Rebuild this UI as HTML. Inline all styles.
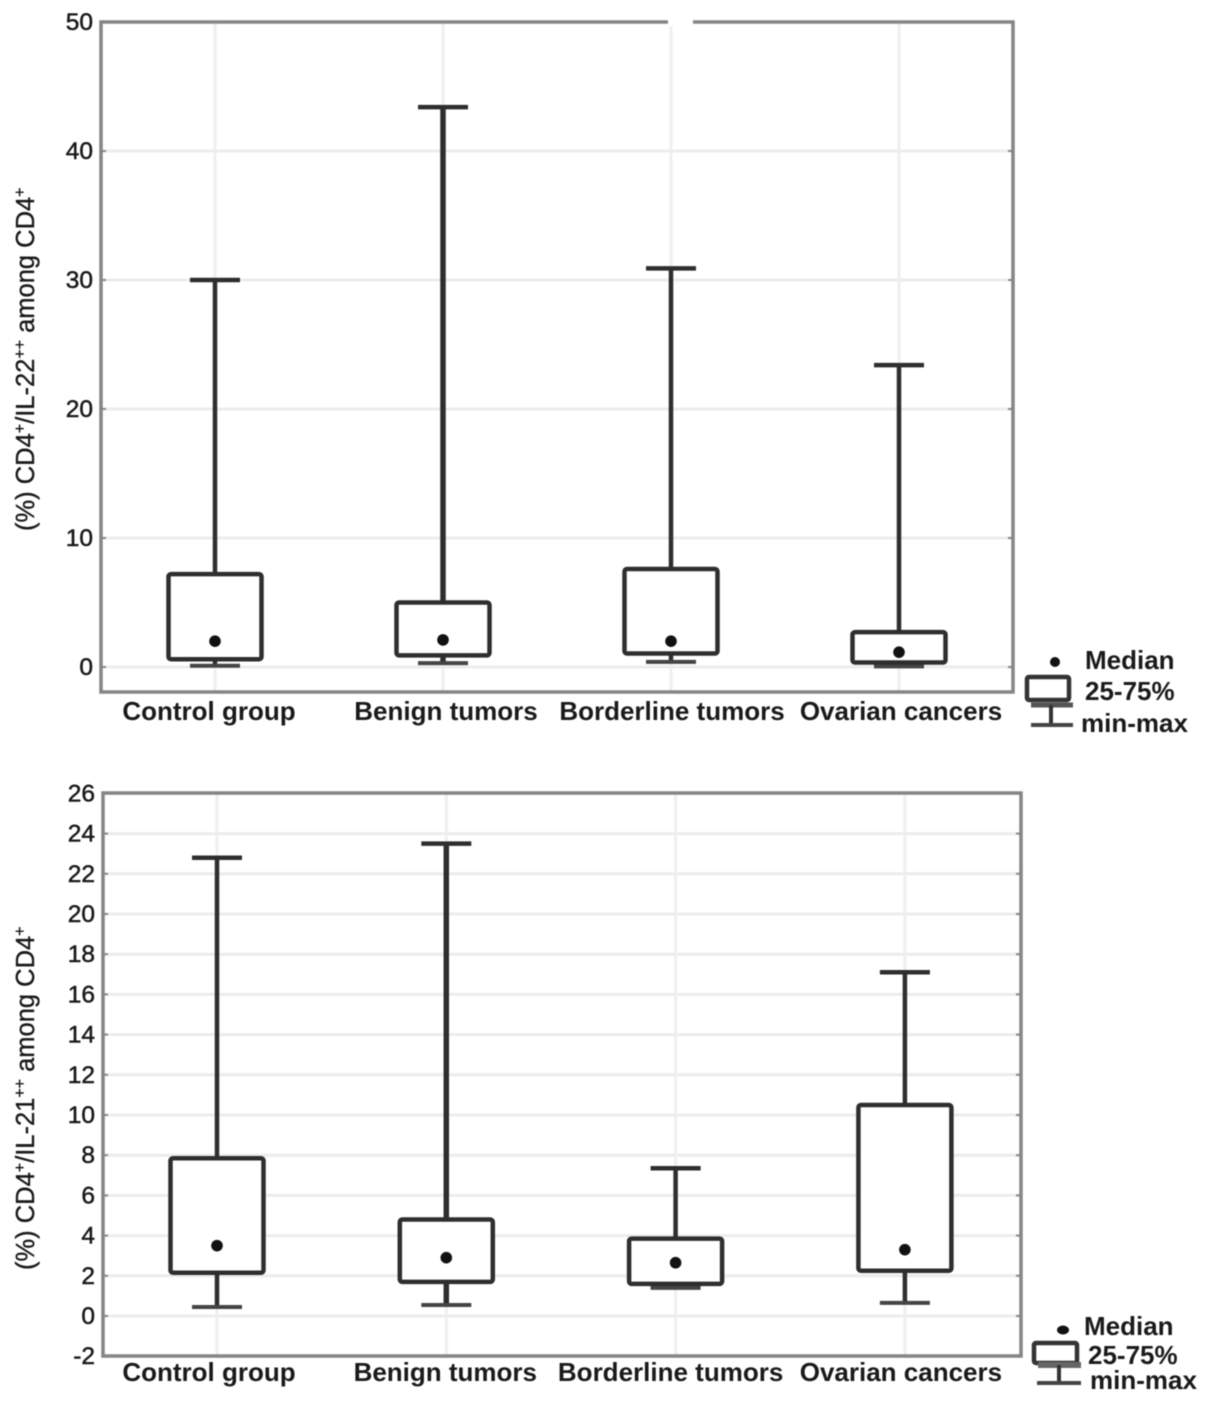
<!DOCTYPE html>
<html lang="en">
<head>
<meta charset="utf-8">
<title>CD4+ IL-22 and IL-21 box plots</title>
<style>
html,body{margin:0;padding:0;background:#fff;}
body{width:1205px;height:1411px;overflow:hidden;}
svg{display:block;filter:blur(0.6px);}
text{font-family:"Liberation Sans",sans-serif;fill:#1a1a1a;}
.tick{font-size:24.5px;stroke:#1a1a1a;stroke-width:0.5px;}
.cat{font-size:26px;font-weight:bold;}
.ytitle{font-size:25.5px;stroke:#1a1a1a;stroke-width:0.35px;}
.sup{font-size:16px;}
.leg{font-size:26px;font-weight:bold;}
</style>
</head>
<body>
<svg id="chart" xmlns="http://www.w3.org/2000/svg" width="1205" height="1411" viewBox="0 0 1205 1411">
  <rect x="0" y="0" width="1205" height="1411" fill="#fff"/>
  <g id="top-chart"></g>
  <g id="bottom-chart"></g>

  <rect x="668" y="14" width="25" height="12" fill="#fff"/>

  <text class="ytitle" transform="translate(34,531) rotate(-90)">(%) CD4<tspan class="sup" dy="-9">+</tspan><tspan dy="9">/IL-22</tspan><tspan class="sup" dy="-9">++</tspan><tspan dy="9"> among CD4</tspan><tspan class="sup" dy="-9">+</tspan></text>
  <text class="ytitle" transform="translate(34,1270) rotate(-90)">(%) CD4<tspan class="sup" dy="-9">+</tspan><tspan dy="9">/IL-21</tspan><tspan class="sup" dy="-9">++</tspan><tspan dy="9"> among CD4</tspan><tspan class="sup" dy="-9">+</tspan></text>

  <g>
    <circle cx="1055" cy="662" r="5" fill="#111"/>
    <rect x="1027" y="677" width="42" height="23" rx="2" fill="#fff" stroke="#333" stroke-width="4.5"/>
    <line x1="1031" y1="705" x2="1073" y2="705" stroke="#555" stroke-width="5"/>
    <line x1="1051" y1="705" x2="1051" y2="725" stroke="#333" stroke-width="4"/>
    <line x1="1031" y1="725" x2="1073" y2="725" stroke="#444" stroke-width="4"/>
    <text class="leg" x="1085" y="669">Median</text>
    <text class="leg" x="1085" y="700">25-75%</text>
    <text class="leg" x="1081" y="732">min-max</text>
  </g>
  <g>
    <ellipse cx="1063" cy="1330" rx="6" ry="4.5" fill="#111"/>
    <rect x="1034" y="1343" width="43" height="20" rx="2" fill="#fff" stroke="#333" stroke-width="4.5"/>
    <line x1="1038" y1="1365" x2="1081" y2="1365" stroke="#666" stroke-width="6"/>
    <line x1="1059" y1="1365" x2="1059" y2="1383" stroke="#333" stroke-width="4"/>
    <line x1="1037" y1="1383" x2="1081" y2="1383" stroke="#444" stroke-width="4"/>
    <text class="leg" x="1084" y="1335">Median</text>
    <text class="leg" x="1088" y="1364">25-75%</text>
    <text class="leg" x="1090" y="1389">min-max</text>
  </g>
</svg>
<script>
const categories = ["Control group", "Benign tumors", "Borderline tumors", "Ovarian cancers"];

const il22Ticks = [0, 10, 20, 30, 40, 50];
const il22Max = [30.0, 43.4, 30.9, 23.4];
const il22Q3 = [7.2, 5.0, 7.6, 2.7];
const il22Median = [2.0, 2.1, 2.0, 1.15];
const il22Q1 = [0.6, 0.9, 1.05, 0.35];
const il22Min = [0.1, 0.3, 0.4, 0.05];

const il21Ticks = [-2, 0, 2, 4, 6, 8, 10, 12, 14, 16, 18, 20, 22, 24, 26];
const il21Max = [22.8, 23.5, 7.35, 17.1];
const il21Q3 = [7.85, 4.8, 3.85, 10.5];
const il21Median = [3.5, 2.9, 2.65, 3.3];
const il21Q1 = [2.15, 1.7, 1.6, 2.25];
const il21Min = [0.45, 0.55, 1.4, 0.65];

const NS = "http://www.w3.org/2000/svg";

function make(parent, tag, attrs, txt) {
  const el = document.createElementNS(NS, tag);
  for (const k in attrs) el.setAttribute(k, attrs[k]);
  if (txt !== undefined) el.textContent = txt;
  parent.appendChild(el);
  return el;
}

function drawChart(root, cfg) {
  const yScale = v => cfg.y0 + (v - cfg.vRef) * cfg.pxPerUnit;
  const xScale = i => cfg.xStart + i * cfg.xStep;

  cfg.ticks.forEach(t => {
    const y = yScale(t);
    const grid = make(root, "line", {x1: cfg.left, x2: cfg.right, y1: y, y2: y, stroke: "#ececec", "stroke-width": 3});
    
    
    const tickL = make(root, "line", {x1: cfg.left, x2: cfg.left + 5, y1: y, y2: y, stroke: "#8a8a8a", "stroke-width": 2});
    
    
    const tickR = make(root, "line", {x1: cfg.right - 5, x2: cfg.right, y1: y, y2: y, stroke: "#8a8a8a", "stroke-width": 2});
    
    
    const label = make(root, "text", {x: cfg.left - 8, y: y + 8, "text-anchor": "end", class: "tick"}, String(t));
    
    
  });

  categories.forEach((c, i) => {
    const x = xScale(i);
    const vgrid = make(root, "line", {x1: x, x2: x, y1: cfg.top, y2: cfg.bottom, stroke: "#efefef", "stroke-width": 3});
    
    
  });

  const frame = make(root, "rect", {x: cfg.left, y: cfg.top, width: cfg.right - cfg.left, height: cfg.bottom - cfg.top, fill: "none", stroke: "#858585", "stroke-width": 3.5});
  
  

  categories.forEach((c, i) => {
    const x = xScale(i);
    const whisker = make(root, "line", {x1: x, x2: x, y1: yScale(cfg.max[i]), y2: yScale(cfg.min[i]), stroke: "#2e2e2e", "stroke-width": i === 1 ? 5.5 : 4.5});
    
    
    const capMax = make(root, "line", {x1: x - cfg.capHalf, x2: x + cfg.capHalf, y1: yScale(cfg.max[i]), y2: yScale(cfg.max[i]), stroke: "#2e2e2e", "stroke-width": 4.5});
    
    
    const capMin = make(root, "line", {x1: x - cfg.capHalf, x2: x + cfg.capHalf, y1: yScale(cfg.min[i]), y2: yScale(cfg.min[i]), stroke: "#444", "stroke-width": 4});
    
    
    const box = make(root, "rect", {x: x - cfg.boxHalf, y: yScale(cfg.q3[i]), width: cfg.boxHalf * 2, height: yScale(cfg.q1[i]) - yScale(cfg.q3[i]), rx: 2.5, fill: "#fff", stroke: "#2e2e2e", "stroke-width": 4.5});
    
    
    const med = make(root, "circle", {cx: x, cy: yScale(cfg.median[i]), r: 5.8, fill: "#111"});
    
    
    const cat = make(root, "text", {x: x - 2 + cfg.labelShift[i], y: cfg.labelY, "text-anchor": "middle", class: "cat"}, c);
    
    
  });
}

drawChart(document.getElementById("top-chart"), {
  top: 22, bottom: 692, left: 101, right: 1013,
  y0: 667, vRef: 0, pxPerUnit: -12.9,
  xStart: 215, xStep: 228, boxHalf: 46.5, capHalf: 25,
  ticks: il22Ticks, max: il22Max, q3: il22Q3, median: il22Median, q1: il22Q1, min: il22Min,
  labelY: 720, labelShift: [-4, 5, 3, 4]
});

drawChart(document.getElementById("bottom-chart"), {
  top: 793, bottom: 1356, left: 103, right: 1021,
  y0: 1316, vRef: 0, pxPerUnit: -20.1,
  xStart: 217, xStep: 229.3, boxHalf: 46.5, capHalf: 25,
  ticks: il21Ticks, max: il21Max, q3: il21Q3, median: il21Median, q1: il21Q1, min: il21Min,
  labelY: 1381, labelShift: [-6, 1, -3, -2]
});
</script>
</body>
</html>
